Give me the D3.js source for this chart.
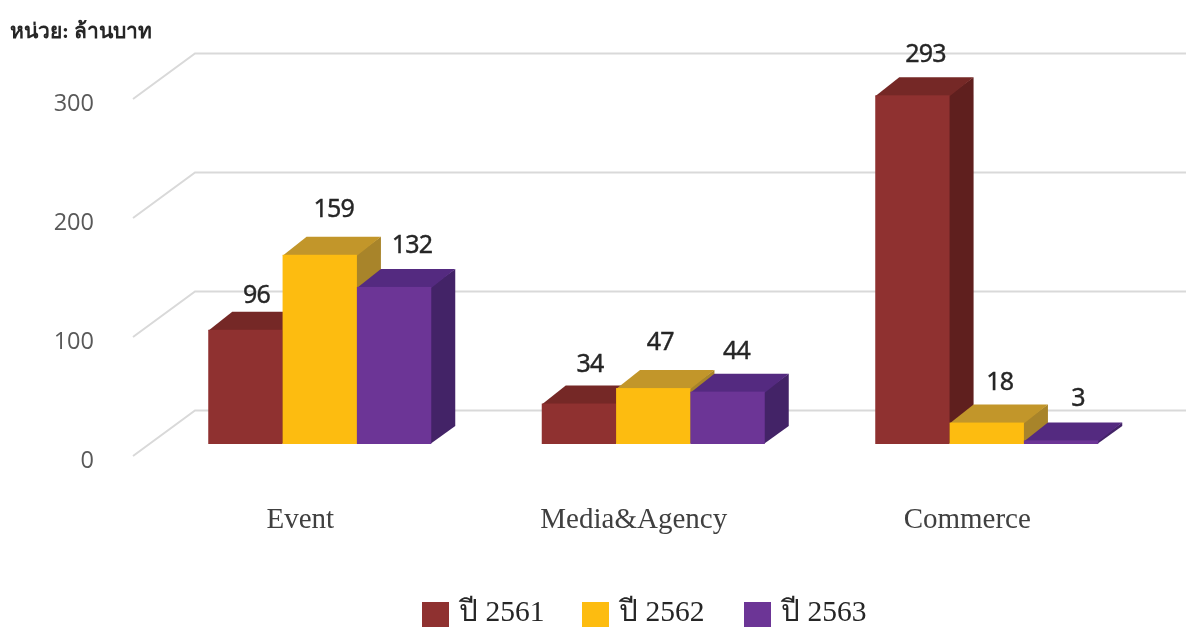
<!DOCTYPE html>
<html><head><meta charset="utf-8">
<script src="https://cdn.jsdelivr.net/npm/d3@7"></script>
<style>
html,body{margin:0;padding:0;background:#fff;overflow:hidden}
svg{display:block;filter:blur(0.7px)}
</style></head><body>
<svg id="c" width="1186" height="627"></svg>
<script>
const categories = ["Event", "Media&Agency", "Commerce"];
const seriesNames = ["ปี 2561", "ปี 2562", "ปี 2563"];
const values2561 = [96, 34, 293];
const values2562 = [159, 47, 18];
const values2563 = [132, 44, 3];
const seriesValues = [values2561, values2562, values2563];
const yTicks = [0, 100, 200, 300];
const unitLabel = "หน่วย: ล้านบาท";
const frontColors = ["#8f3130", "#fdbc10", "#6c3596"];
const topColors = ["#752826", "#c2962a", "#542a80"];
const sideColors = ["#5f1f1e", "#a8842a", "#432367"];
// hand placement of each data label, by category then series
const labelDx = [[11, 14, 18], [11, 7, 9], [13, 13, 17]];
const labelDy = [[-27, -38, -34], [-32, -38, -33], [-33, -33, -34]];

const svg = d3.select("#c");
const W = 1186;
const y = d3.scaleLinear().domain([0, 300]).range([444, 87]);
const x0 = d3.scaleBand().domain(categories).range([153, 1153.5]);
const x1 = d3.scaleBand().domain(d3.range(3)).range([0, 223]);
const depthX = 24, depthY = -18;
const wallX = 62, wallFrontDy = 12, wallBackDy = -33.5;
const wallLeft = 133;
const barLeft = (c, si) => x0(c) + (x0.bandwidth() - 223) / 2 + x1(si);

const thai = "'Liberation Serif','Noto Sans',serif";

// grid
const grid = svg.append("g");
yTicks.forEach(t => {
  const yb = y(t) + wallBackDy, yf = y(t) + wallFrontDy;
  grid.append("path")
    .attr("d", d3.line()([[wallLeft, yf], [wallLeft + wallX, yb], [W, yb]]))
    .attr("fill", "none").attr("stroke", "#d9d9d9").attr("stroke-width", 2);
});

// y tick labels
svg.append("g").selectAll("text").data(yTicks).join("text")
  .attr("x", 94).attr("y", d => y(d) + 23.5)
  .attr("text-anchor", "end")
  .attr("font-family", "'Open Sans',sans-serif").attr("font-size", 23.5).attr("fill", "#595959")
  .text(d => d);

// bars
categories.forEach(c => {
  const ci = categories.indexOf(c);
  const g = svg.append("g");
  seriesValues.forEach((vals, si) => {
    const v = vals[ci];
    const xL = barLeft(c, si);
    const xR = xL + x1.bandwidth();
    const yT = y(v), yB = y(0);
    g.append("polygon").attr("fill", sideColors[si])
      .attr("points", [[xR - 1, yT], [xR + depthX, yT + depthY], [xR + depthX, yB + depthY], [xR - 1, yB]].join(" "));
    g.append("polygon").attr("fill", topColors[si])
      .attr("points", [[xL, yT + 1], [xL + depthX, yT + depthY], [xR + depthX, yT + depthY], [xR, yT + 1]].join(" "));
    g.append("rect").attr("x", xL).attr("y", yT).attr("width", x1.bandwidth()).attr("height", yB - yT)
      .attr("fill", frontColors[si]);
  });
});

// data labels
categories.forEach((c, ci) => {
  seriesValues.forEach((vals, si) => {
    svg.append("text")
      .attr("x", barLeft(c, si) + x1.bandwidth() / 2 + labelDx[ci][si])
      .attr("y", y(vals[ci]) + labelDy[ci][si])
      .attr("text-anchor", "middle")
      .attr("font-family", "'Noto Sans','DejaVu Sans',sans-serif")
      .attr("font-size", 25).attr("letter-spacing", -0.8)
      .attr("fill", "#262626").attr("stroke", "#262626").attr("stroke-width", 0.4)
      .text(vals[ci]);
  });
});

// category labels
svg.append("g").selectAll("text").data(categories).join("text")
  .attr("x", d => x0(d) + x0.bandwidth() / 2 - 19.5).attr("y", 528)
  .attr("text-anchor", "middle")
  .attr("font-family", "'Liberation Serif',serif").attr("font-size", 29).attr("fill", "#404040")
  .text(d => d);

// legend
const legX = [422, 582, 744];
seriesNames.forEach((s, i) => {
  svg.append("rect").attr("x", legX[i]).attr("y", 602).attr("width", 27).attr("height", 25).attr("fill", frontColors[i]);
  svg.append("text").attr("x", legX[i] + 37).attr("y", 621)
    .attr("font-family", thai).attr("font-size", 29.5).attr("fill", "#262626").text(s);
});

// unit
svg.append("text").attr("x", 10).attr("y", 38)
  .attr("font-family", thai).attr("font-size", 21).attr("font-weight", "bold").attr("fill", "#262626").text(unitLabel);
</script>
</body></html>
